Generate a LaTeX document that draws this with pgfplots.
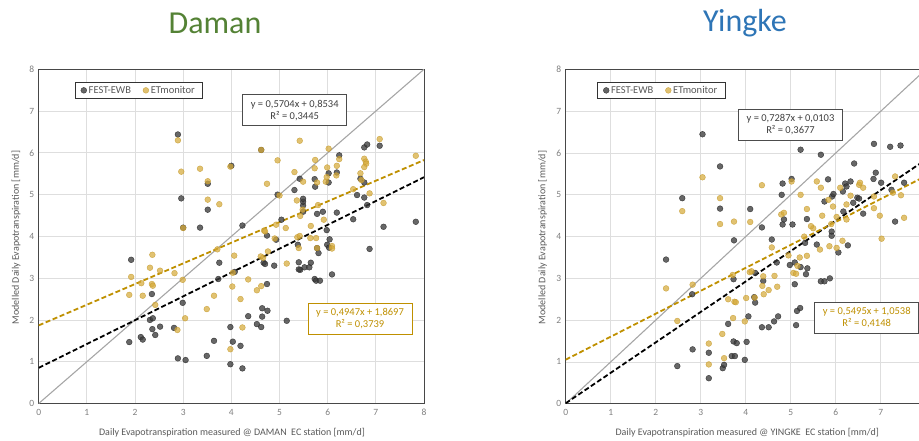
\documentclass[border=0pt]{standalone}
\usepackage{fontspec}
\setmainfont{Carlito}
\usepackage{pgfplots}
\pgfplotsset{compat=1.18}
\usepackage{pgfplotstable}

\definecolor{txtgrey}{HTML}{595959}
\definecolor{tickgrey}{HTML}{7F7F7F}
\definecolor{gridgrey}{HTML}{DEDEDE}
\definecolor{festfill}{HTML}{3C3C3C}
\definecolor{festedge}{HTML}{262626}
\definecolor{etfill}{HTML}{D6AA3A}
\definecolor{etedge}{HTML}{C49A2C}
\definecolor{etline}{HTML}{BF9000}
\definecolor{oneone}{HTML}{A6A6A6}
\definecolor{damangreen}{HTML}{548235}
\definecolor{yingkeblue}{HTML}{2E75B6}

% Daman station: FEST-EWB vs measured ET
\pgfplotstableread{
x y
1.92 3.44
1.88 1.47
2.12 1.59
2.16 1.53
2.31 2.00
2.37 2.04
2.36 1.78
2.42 1.64
2.35 2.62
2.52 1.84
2.81 1.81
2.89 1.08
3.05 1.04
2.99 2.41
2.89 6.44
2.96 4.91
3.00 4.21
3.35 4.21
3.51 5.26
3.51 4.64
3.49 1.14
3.64 1.50
3.75 3.37
3.73 2.98
3.98 1.83
3.98 0.94
4.03 1.48
4.19 1.38
4.23 0.84
4.00 5.69
4.07 3.15
4.23 4.26
4.35 2.09
4.53 1.90
4.62 1.83
4.64 2.08
4.64 2.28
4.75 2.22
4.74 2.86
4.62 6.07
4.67 3.37
4.70 3.34
4.89 3.30
4.74 4.02
4.96 5.00
5.04 4.40
4.93 3.92
5.15 1.98
5.31 5.11
5.42 5.38
5.49 4.74
5.49 4.83
5.49 4.59
5.49 4.90
5.38 3.80
5.43 3.20
5.40 3.38
5.40 3.21
5.52 3.26
5.62 3.26
5.65 3.37
5.73 5.37
5.74 5.19
5.78 4.54
5.90 4.59
5.98 4.15
5.78 3.72
5.81 3.60
5.99 3.80
6.04 3.93
5.73 2.98
5.76 2.94
5.84 2.94
6.09 3.09
6.03 3.73
6.02 5.51
6.02 5.29
6.19 5.53
6.24 5.94
6.19 4.57
6.53 4.41
6.61 4.99
6.68 5.38
6.76 5.29
6.76 4.93
6.82 4.75
6.76 6.13
6.82 6.20
7.08 6.17
6.87 3.70
7.16 4.23
7.83 4.35
}\damanfest

% Daman station: ETmonitor vs measured ET
\pgfplotstableread{
x y
1.92 3.03
1.88 2.60
2.36 3.56
2.31 3.25
2.13 2.88
2.35 2.86
2.37 2.82
2.16 2.58
2.42 2.36
2.52 3.18
2.82 3.12
2.88 1.76
2.99 2.96
3.04 2.04
2.89 6.30
2.96 5.55
3.00 4.20
3.35 5.62
3.51 5.32
3.51 4.88
3.75 4.77
3.49 2.26
3.64 2.58
3.71 3.69
3.98 1.30
3.98 5.67
4.06 3.54
4.03 3.13
4.02 2.80
4.19 2.50
4.23 1.82
4.35 2.97
4.53 2.71
4.62 2.81
4.66 3.49
4.61 3.52
4.76 3.64
4.62 6.07
4.74 5.26
4.68 4.14
4.70 4.12
4.90 3.95
4.93 4.28
4.96 5.82
5.00 4.98
5.13 4.20
5.15 3.35
5.31 5.54
5.36 4.86
5.42 6.29
5.49 5.31
5.48 4.64
5.43 4.49
5.37 3.98
5.42 4.01
5.40 3.72
5.64 3.96
5.76 3.96
5.65 4.25
5.74 5.83
5.73 5.63
5.78 5.29
5.80 4.75
5.78 3.72
5.92 4.40
5.99 5.65
5.98 5.42
5.96 5.31
6.02 6.10
6.09 3.77
6.09 3.71
6.19 5.69
6.18 5.46
6.24 5.85
6.53 5.13
6.68 5.51
6.70 5.35
6.76 5.86
6.79 5.79
6.80 5.74
6.76 5.66
6.87 5.03
7.08 6.33
7.16 4.80
7.83 5.93
}\damanet

% Yingke station: FEST-EWB vs measured ET
\pgfplotstableread{
x y
2.23 3.45
2.59 4.92
2.81 2.62
2.82 1.30
2.48 0.90
3.04 6.45
3.18 1.22
3.18 0.61
3.43 5.68
3.43 4.67
3.49 0.85
3.52 0.93
3.61 1.91
3.69 1.14
3.76 1.14
3.73 1.49
3.80 1.45
3.98 1.05
4.02 1.48
4.06 2.09
3.74 3.91
3.73 2.98
4.10 4.66
4.19 2.55
4.21 2.42
4.21 3.13
4.36 4.22
4.39 2.94
4.36 1.83
4.51 1.83
4.63 1.97
4.72 2.09
4.58 3.93
4.69 3.38
4.82 5.27
4.80 5.00
4.85 4.41
4.82 4.29
5.02 5.38
5.04 4.29
4.98 3.32
5.09 3.38
5.22 3.27
5.34 3.10
5.37 3.24
5.09 2.86
5.12 1.88
5.14 2.22
5.21 2.29
5.22 6.08
5.67 5.96
5.36 4.42
5.32 3.85
5.58 3.81
5.67 2.93
5.75 2.93
5.87 3.00
5.75 4.84
5.83 5.37
5.91 4.12
5.91 4.02
5.92 4.96
5.95 5.02
6.06 3.62
6.16 5.08
6.21 5.27
6.33 5.32
6.17 4.60
6.24 5.20
6.27 3.79
6.39 4.81
6.41 5.75
6.48 4.93
6.52 4.91
6.61 4.55
6.84 5.38
6.89 5.53
7.01 5.29
6.85 6.22
7.21 6.15
7.44 6.18
7.24 5.12
7.32 4.36
7.52 5.29
}\yingkefest

% Yingke station: ETmonitor vs measured ET
\pgfplotstableread{
x y
2.23 2.76
2.48 1.98
2.59 4.61
2.82 2.85
3.04 5.42
3.18 1.44
3.18 0.94
3.43 4.92
3.43 4.30
3.48 1.67
3.52 1.09
3.61 2.50
3.71 3.08
3.72 2.05
3.74 4.36
3.75 2.44
3.78 2.43
3.98 1.97
4.01 2.53
4.09 3.15
4.10 4.35
4.13 3.17
4.20 2.54
4.36 5.23
4.37 2.82
4.39 3.05
4.40 2.62
4.51 2.72
4.64 3.06
4.70 2.80
4.58 3.74
4.79 4.53
4.85 4.57
5.02 5.32
5.06 3.13
5.12 3.11
5.20 3.50
5.36 3.54
4.95 3.55
5.15 3.30
5.30 4.00
5.50 4.20
5.45 4.25
5.22 5.00
5.36 4.66
5.58 5.32
5.67 5.17
5.65 3.69
5.86 3.77
5.84 4.88
5.94 4.72
5.70 4.50
5.90 4.30
6.02 3.73
6.02 4.47
6.10 5.17
6.15 3.90
6.24 4.77
6.24 4.41
6.33 4.98
6.52 5.24
6.54 5.29
6.61 5.17
6.85 4.96
6.85 4.68
6.98 4.50
7.02 3.95
7.27 5.05
7.32 5.44
7.45 4.99
7.52 4.45
}\yingkeet

\pgfplotsset{
  panel/.style={
    scale only axis,
    height=334.2pt,
    xmin=0, xmax=8, ymin=0, ymax=8,
    xtick={0,1,...,8}, ytick={0,1,...,8},
    grid=major,
    major grid style={draw=gridgrey, line width=0.8pt},
    axis line style={draw=black!72, line width=0.9pt},
    tick style={draw=none},
    ticklabel style={font=\fontsize{9.5}{10}\selectfont, text=tickgrey},
    /pgf/number format/assume math mode=true,
    xticklabel style={yshift=-2pt},
    yticklabel style={xshift=-1pt},
    legend columns=2,
    legend cell align=left,
    legend style={draw=black!80, line width=0.8pt, anchor=center,
      font=\fontsize{10.5}{11}\selectfont, text=txtgrey,
      inner xsep=6pt, inner ysep=1.5pt,
      /tikz/every even column/.append style={column sep=10pt}},
  },
  fest/.style={only marks, mark=*, mark size=2.9pt,
    mark options={fill=festfill, draw=festedge, fill opacity=0.78, draw opacity=0.85, line width=0.4pt}},
  etm/.style={only marks, mark=*, mark size=2.9pt,
    mark options={fill=etfill, draw=etedge, fill opacity=0.72, draw opacity=0.8, line width=0.4pt}},
  oneline/.style={draw=oneone, line width=1.1pt, forget plot},
  festfit/.style={draw=black, line width=1.8pt, dash pattern=on 5pt off 2.6pt, forget plot},
  etfit/.style={draw=etline, line width=1.8pt, dash pattern=on 5pt off 2.6pt, forget plot},
}

\begin{document}
\begin{tikzpicture}

% ---------------- Daman ----------------
\begin{axis}[panel, width=385.3pt, at={(38.7pt,37.5pt)}, anchor=south west,
  legend style={at={(0.26,0.937)}}]
  \addplot[oneline] coordinates {(0,0) (8,8)};
  \addplot[fest] table[x=x, y=y] {\damanfest};
  \addlegendentry{FEST-EWB}
  \addplot[etm] table[x=x, y=y] {\damanet};
  \addlegendentry{ETmonitor}
  % least-squares fits: y = 0.5704x + 0.8534 and y = 0.4947x + 1.8697
  \addplot[festfit] coordinates {(0,0.8534) (8,5.4166)};
  \addplot[etfit] coordinates {(0,1.8697) (8,5.8273)};
\end{axis}

% ---------------- Yingke (right edge runs past the page) ----------------
\begin{axis}[panel, width=360pt, at={(565.7pt,37.3pt)}, anchor=south west,
  xtick={0,1,...,7}, extra x ticks={8}, extra x tick labels={},
  legend style={at={(0.2656,0.9375)}}]
  \addplot[oneline] coordinates {(0,0) (8,8)};
  \addplot[fest] table[x=x, y=y] {\yingkefest};
  \addlegendentry{FEST-EWB}
  \addplot[etm] table[x=x, y=y] {\yingkeet};
  \addlegendentry{ETmonitor}
  % least-squares fits: y = 0.7287x + 0.0103 and y = 0.5495x + 1.0538
  \addplot[festfit] coordinates {(0,0.0103) (8,5.8399)};
  \addplot[etfit] coordinates {(0,1.0538) (8,5.4498)};
\end{axis}

% panel titles
\node[font=\fontsize{32}{36}\selectfont, text=damangreen] at (215pt,418pt) {Daman};
\node[font=\fontsize{32}{36}\selectfont, text=yingkeblue] at (745pt,418pt) {Yingke};

% axis titles
\node[font=\fontsize{10}{12}\selectfont, text=txtgrey] at (232pt,8.3pt)
  {Daily Evapotranspiration measured @ DAMAN\ \ EC station [mm/d]};
\node[font=\fontsize{10}{12}\selectfont, text=txtgrey] at (747.3pt,8.3pt)
  {Daily Evapotranspiration measured @ YINGKE\ \ EC station [mm/d]};
\node[font=\fontsize{10}{12}\selectfont, text=txtgrey, rotate=90] at (16pt,203.5pt)
  {Modelled Daily Evapotranspiration [mm/d]};
\node[font=\fontsize{10}{12}\selectfont, text=txtgrey, rotate=90] at (542.5pt,203.5pt)
  {Modelled Daily Evapotranspiration [mm/d]};

% regression equation boxes
\tikzset{eqbox/.style={fill=white, line width=0.9pt, align=center,
  font=\fontsize{10.5}{12}\selectfont, minimum width=104pt, minimum height=31pt, inner sep=1pt}}
\node[eqbox, draw=black!70, text=black!75] at (294.7pt,330.7pt)
  {y = 0,5704x + 0,8534\\R² = 0,3445};
\node[eqbox, draw=etline, text=etline] at (360pt,122.2pt)
  {y = 0,4947x + 1,8697\\R² = 0,3739};
\node[eqbox, draw=black!70, text=black!75] at (790.5pt,316.3pt)
  {y = 0,7287x + 0,0103\\R² = 0,3677};
\node[eqbox, draw=black!70, text=etline] at (866.7pt,123.5pt)
  {y = 0,5495x + 1,0538\\R² = 0,4148};

\pgfresetboundingbox
\path[use as bounding box] (0pt,0pt) rectangle (919pt,441pt);
\end{tikzpicture}
\end{document}
